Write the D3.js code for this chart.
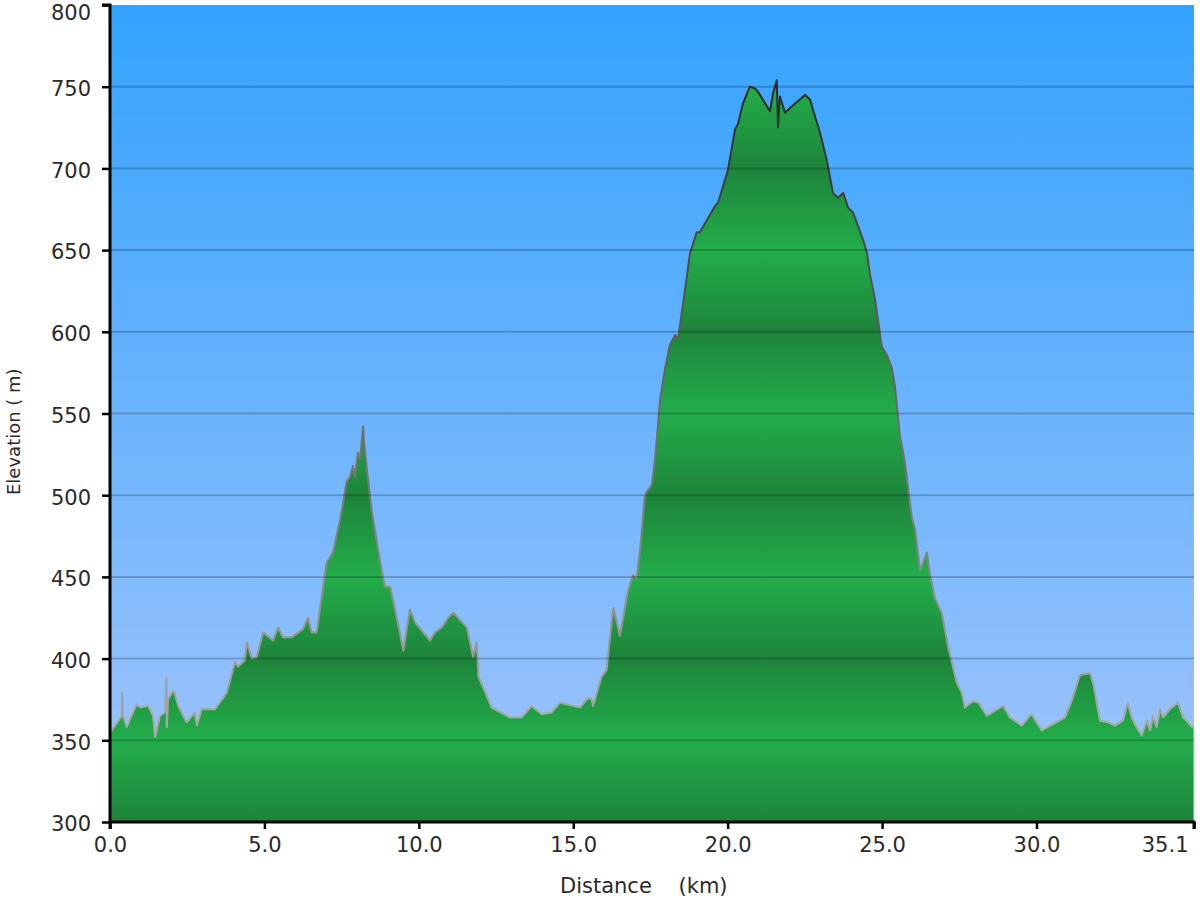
<!DOCTYPE html>
<html><head><meta charset="utf-8">
<script src="https://cdn.jsdelivr.net/npm/d3@7"></script>
<style>body{margin:0;background:#fff}svg{display:block}</style>
</head><body>
<svg id="chart" width="1200" height="900"></svg>
<script>
// Profile: distance (km) and elevation (m)
const distance = [0,0.06,0.38,0.39,0.42,0.54,0.86,0.97,1.24,1.39,1.46,1.62,1.78,1.83,1.84,1.88,2.00,2.07,2.21,2.48,2.75,2.81,2.97,3.40,3.78,4.05,4.14,4.37,4.43,4.59,4.75,4.96,5.28,5.44,5.60,5.88,6.25,6.41,6.53,6.69,6.85,7.02,7.22,7.45,7.66,7.77,7.87,7.93,8.03,8.10,8.15,8.20,8.22,8.31,8.47,8.74,8.90,9.07,9.23,9.50,9.71,9.88,10.36,10.52,10.74,10.95,11.12,11.55,11.76,11.87,11.93,12.36,12.95,13.33,13.65,13.98,14.30,14.57,15.22,15.48,15.60,15.64,15.92,16.08,16.19,16.30,16.51,16.77,16.93,17.05,17.16,17.32,17.38,17.54,17.65,17.81,17.97,18.13,18.30,18.39,18.62,18.78,19.00,19.10,19.59,19.69,20.01,20.24,20.33,20.50,20.72,20.88,20.98,21.37,21.47,21.59,21.63,21.69,21.86,22.08,22.51,22.67,22.76,22.99,23.21,23.41,23.57,23.74,23.90,24.06,24.39,24.51,24.61,24.77,24.99,25.15,25.31,25.42,25.58,25.74,25.96,26.07,26.23,26.45,26.55,26.71,26.93,27.14,27.42,27.58,27.68,27.95,28.12,28.39,28.92,29.14,29.52,29.84,30.17,30.92,31.14,31.41,31.73,31.83,32.06,32.32,32.54,32.80,32.96,33.08,33.24,33.41,33.57,33.68,33.77,33.89,34.00,34.10,34.32,34.58,34.74,34.86,35.03,35.1];
const elevation = [355,356,365,379,365,358,372,370,371,365,352,365,367,388,358,375,379,380,371,361,367,359,369,369,379,398,395,399,410,400,401,416,411,419,413,413,418,425,416,416,437,459,465,485,508,511,518,511,526,522,533,542,533,517,491,460,444,444,430,405,430,422,411,416,419,425,428,419,401,410,389,370,364,364,371,366,367,373,370,376,375,371,389,393,413,431,414,441,451,449,466,499,502,506,522,558,577,592,598,595,626,648,661,661,677,679,699,724,727,740,750,749,747,735,746,754,725,744,734,738,745,742,736,722,705,685,682,685,676,673,656,648,635,620,591,586,578,566,536,520,487,479,454,465,452,437,428,407,385,379,370,374,373,365,371,364,359,366,356,364,374,390,391,385,362,361,359,362,373,364,358,353,362,356,365,358,369,364,369,373,364,362,358,358];
const yTicks = [300,350,400,450,500,550,600,650,700,750,800];
const gridValues = [350,400,450,500,550,600,650,700,750];
const xTicks = [0,5,10,15,20,25,30,35.1];
const xTickLabels = ["0.0","5.0","10.0","15.0","20.0","25.0","30.0","35.1"];
const xTitle = "Distance    (km)";
const yTitle = "Elevation ( m)";

const FONT = "DejaVu Sans, Verdana, sans-serif";
const svg = d3.select("#chart");
const x = d3.scaleLinear().domain([0,35.1]).range([110,1194]);
const y = d3.scaleLinear().domain([300,800]).range([822,5]);
const defs = svg.append("defs");

const bg = defs.append("linearGradient").attr("id","bg").attr("gradientUnits","userSpaceOnUse")
  .attr("x1",0).attr("x2",0).attr("y1",y(800)).attr("y2",y(300));
bg.append("stop").attr("offset",0).attr("stop-color","#33a3ff");
bg.append("stop").attr("offset",1).attr("stop-color","#a3c5fb");

const gr = defs.append("linearGradient").attr("id","green").attr("gradientUnits","userSpaceOnUse")
  .attr("x1",0).attr("x2",0).attr("y1",y(800)).attr("y2",y(300));
yTicks.slice().sort((a,b)=>b-a).forEach(v=>{
  gr.append("stop").attr("offset",(800-v)/500).attr("stop-color", v%100===0 ? "#1d843a" : "#23ad4b");
});

const st = defs.append("linearGradient").attr("id","strk").attr("gradientUnits","userSpaceOnUse")
  .attr("x1",0).attr("x2",0).attr("y1",y(750)).attr("y2",y(350));
st.append("stop").attr("offset",0).attr("stop-color","#2a2a2a");
st.append("stop").attr("offset",1).attr("stop-color","#aaaaaa");

svg.append("rect").attr("x",x(0)).attr("y",y(800)).attr("width",x(35.1)-x(0)).attr("height",y(300)-y(800)).attr("fill","url(#bg)");

const data = distance.map((d,i)=>({d,e:elevation[i]}));
svg.append("path").datum(data)
  .attr("d", d3.area().x(p=>x(p.d)).y0(y(300)).y1(p=>y(p.e)))
  .attr("fill","url(#green)");
svg.append("path").datum(data)
  .attr("d", d3.line().x(p=>x(p.d)).y(p=>y(p.e)))
  .attr("fill","none").attr("stroke","url(#strk)").attr("stroke-width",2).attr("stroke-linejoin","round");

svg.append("g").selectAll("line").data(gridValues).join("line")
  .attr("x1",x(0)).attr("x2",x(35.1)).attr("y1",d=>y(d)).attr("y2",d=>y(d))
  .attr("stroke","rgba(0,0,0,0.2)").attr("stroke-width",2);

svg.append("line").attr("x1",x(35.1)).attr("x2",x(35.1)).attr("y1",y(elevation[elevation.length-1])).attr("y2",y(300))
  .attr("stroke","#c8e6cc").attr("stroke-width",1);

const yAxis = svg.append("g").attr("transform",`translate(${x(0)},0)`)
  .call(d3.axisLeft(y).tickValues(yTicks).tickSize(8).tickPadding(11).tickFormat(d3.format("d")));
const xAxis = svg.append("g").attr("transform",`translate(0,${y(300)})`)
  .call(d3.axisBottom(x).tickValues(xTicks).tickSize(7).tickPadding(8).tickFormat((d,i)=>xTickLabels[i]));
[yAxis,xAxis].forEach(g=>{
  g.select(".domain").attr("stroke","#000").attr("stroke-width",3);
  g.selectAll(".tick line").attr("stroke","#000").attr("stroke-width",2.5);
  g.selectAll("text").attr("fill","#2a2a2a").attr("font-family",FONT).attr("font-size",21);
});
yAxis.selectAll(".tick text").attr("dy",d=> d===800 ? "0.7em" : "0.42em");
xAxis.selectAll(".tick text").filter(d=>d===35.1).attr("text-anchor","end").attr("dx",-6);
yAxis.select(".domain").attr("d",`M-8,${y(800)}H0V${y(300)}`);
xAxis.select(".domain").attr("d",`M${x(0)},7V0H${x(35.1)}V7`);

svg.append("text").attr("x",560).attr("y",893).attr("fill","#2a2a2a")
  .attr("font-family",FONT).attr("font-size",21)
  .style("white-space","pre").text(xTitle);
svg.append("text").attr("transform","translate(20,495) rotate(-90)").attr("fill","#2a2a2a")
  .attr("font-family",FONT).attr("font-size",18)
  .style("white-space","pre").text(yTitle);
</script>
</body></html>
